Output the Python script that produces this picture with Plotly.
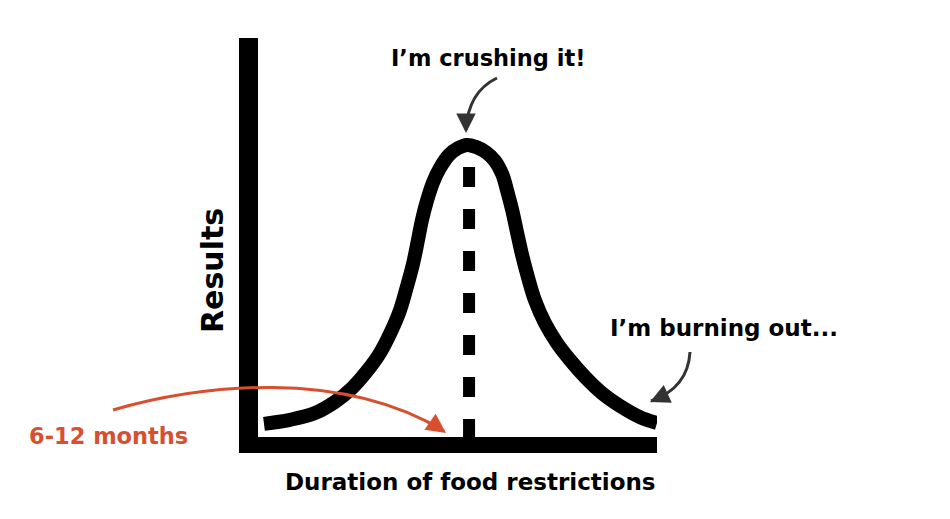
import plotly.graph_objects as go

# ---- data ----
curve_x = [0.15, 0.80, 1.43, 1.93, 2.36, 2.73, 3.06, 3.33, 3.56, 3.73, 3.89, 4.01,
           4.11, 4.24, 4.39, 4.56, 4.79, 5.01, 5.24,
           5.46, 5.71, 5.94, 6.12, 6.24, 6.37, 6.49, 6.62, 6.77, 6.94, 7.19, 7.49,
           7.82, 8.20, 8.62, 9.07, 9.57, 10.0]
curve_y = [0.33, 0.43, 0.60, 0.88, 1.23, 1.65, 2.11, 2.63, 3.18, 3.76, 4.36, 4.94,
           5.44, 5.94, 6.39, 6.74, 7.07, 7.24, 7.32,
           7.27, 7.14, 6.92, 6.59, 6.19, 5.69, 5.14, 4.56, 3.99, 3.43, 2.86, 2.36,
           1.93, 1.50, 1.10, 0.78, 0.50, 0.35]
peak_line_x = [5.29, 5.29]
peak_line_y = [6.77, 0.0]

x_label = "Duration of food restrictions"
y_label = "Results"
peak_label = "I’m crushing it!"
tail_label = "I’m burning out..."
period_label = "6-12 months"

# ---- geometry / style ----
W, H = 950, 519          # browser window
OFF = 8                  # default page body margin
FW, FH = W - 2 * OFF, H - 2 * OFF
L, R, T, B = 258, 657, 38, 437   # plot area in page pixels
FONT = "DejaVu Sans"
INK = "#000000"
ARROW = "#333333"
ORANGE = "#d6502f"


def p(px, py):
    """page pixel -> paper fraction"""
    return (px - L) / (R - L), (B - py) / (B - T)


fig = go.Figure()
fig.add_trace(go.Scatter(x=curve_x, y=curve_y, mode="lines",
                         line=dict(color=INK, width=14, shape="spline", smoothing=1.0),
                         hoverinfo="skip"))
fig.add_trace(go.Scatter(x=peak_line_x, y=peak_line_y, mode="lines",
                         line=dict(color=INK, width=12, dash="20px,22px"),
                         hoverinfo="skip"))

shapes = []


def curve_path(pts, cmd):
    conv = [p(*pt) for pt in pts]
    s = "M {:.4f},{:.4f} {} ".format(conv[0][0], conv[0][1], cmd)
    s += " ".join("{:.4f},{:.4f}".format(a, b) for a, b in conv[1:])
    return s


# curved arrow bodies
shapes.append(dict(type="path", xref="paper", yref="paper",
                   path=curve_path([(497, 78), (468, 92), (466, 130)], "Q"),
                   line=dict(color=ARROW, width=3)))
shapes.append(dict(type="path", xref="paper", yref="paper",
                   path=curve_path([(690, 352), (688, 388), (651, 401)], "Q"),
                   line=dict(color=ARROW, width=3)))
shapes.append(dict(type="path", xref="paper", yref="paper",
                   path=curve_path([(113, 410), (200, 385), (340, 368), (444, 431)], "C"),
                   line=dict(color=ORANGE, width=3)))

annotations = []


def head(tip, dx, dy, color):
    x, y = p(*tip)
    annotations.append(dict(x=x, y=y, xref="paper", yref="paper", text="",
                            showarrow=True, ax=dx, ay=dy, arrowhead=2, arrowsize=1.3,
                            arrowwidth=3, arrowcolor=color, standoff=0))


head((466, 133), 0, -12, ARROW)
head((650, 402), 11, -5, ARROW)
head((446, 433), -10, -7, ORANGE)


def label(text, cx, cy, size, color=INK, angle=0):
    x, y = p(cx, cy)
    annotations.append(dict(x=x, y=y, xref="paper", yref="paper", text=text,
                            showarrow=False, textangle=angle,
                            font=dict(family=FONT, size=size, color=color, weight="bold"),
                            xanchor="center", yanchor="middle"))


label(peak_label, 488, 58, 22.5)
label(tail_label, 724, 328, 23)
label(period_label, 108, 436, 22.5, ORANGE)
label(x_label, 470, 482, 23)
label(y_label, 212, 271, 30, angle=-90)

fig.update_layout(
    width=FW, height=FH,
    margin=dict(l=L - OFF, r=FW - (R - OFF), t=T - OFF, b=FH - (B - OFF)),
    paper_bgcolor="white", plot_bgcolor="white",
    showlegend=False,
    shapes=shapes, annotations=annotations,
    xaxis=dict(range=[0, 10], showgrid=False, zeroline=False, showticklabels=False,
               ticks="", showline=True, linewidth=16, linecolor=INK, fixedrange=True),
    yaxis=dict(range=[0, 10], showgrid=False, zeroline=False, showticklabels=False,
               ticks="", showline=True, linewidth=19, linecolor=INK, fixedrange=True),
)

fig.write_html("out.html")
